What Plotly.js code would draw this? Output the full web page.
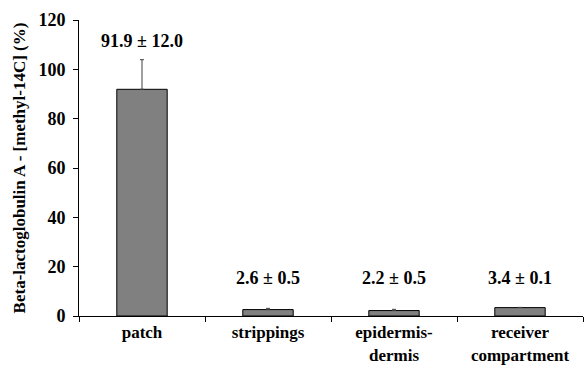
<!DOCTYPE html>
<html><head><meta charset="utf-8">
<script src="https://cdn.plot.ly/plotly-3.0.1.min.js"></script>
<style>body{margin:0;padding:0;background:#fff}#c{width:584px;height:366px}</style>
</head><body><div id="c"></div>
<script>
const categories = ["patch", "strippings", "epidermis-<br>dermis", "receiver<br>compartment"];
const values = [91.9, 2.6, 2.2, 3.4];
const errors = [12.0, 0.5, 0.5, 0.1];
const labels = ["91.9 ± 12.0", "2.6 ± 0.5", "2.2 ± 0.5", "3.4 ± 0.1"];
const labelY = [111.5, 15.4, 15.4, 15.4];
const yTicks = [0, 20, 40, 60, 80, 100, 120];

const F = {family: "Liberation Serif, Times New Roman, serif", color: "#000", weight: "bold"};

const trace = {
  type: "bar", x: categories, y: values,
  marker: {color: "#808080", line: {color: "#000", width: 1}},
  error_y: {type: "data", symmetric: false, array: errors, arrayminus: errors.map(() => 0),
            color: "#404040", thickness: 1, width: 2},
  hoverinfo: "none"
};
const annotations = labels.map((t, i) => ({
  x: categories[i], y: labelY[i], text: t, showarrow: false,
  font: Object.assign({}, F, {size: 18}), xanchor: "center", yanchor: "middle"
}));
const layout = {
  width: 584, height: 366,
  margin: {l: 79, r: 1, t: 20, b: 50},
  paper_bgcolor: "#fff", plot_bgcolor: "#fff",
  showlegend: false, bargap: 0.6,
  xaxis: {tickson: "boundaries", ticks: "outside", ticklen: 5, tickcolor: "#000",
          showline: true, linecolor: "#000", linewidth: 1, showgrid: false, zeroline: false,
          tickfont: Object.assign({}, F, {size: 17}), ticklabelstandoff: 1, fixedrange: true},
  yaxis: {range: [0, 120], tickvals: yTicks, ticks: "outside", ticklen: 5, tickcolor: "#000",
          showline: true, linecolor: "#000", linewidth: 1, showgrid: false, zeroline: false,
          tickfont: Object.assign({}, F, {size: 18}), ticklabelstandoff: 4,
          title: {text: "Beta-lactoglobulin A - [methyl-14C] (%)", font: Object.assign({}, F, {size: 17}), standoff: 8},
          fixedrange: true},
  annotations: annotations
};
Plotly.newPlot("c", [trace], layout, {displayModeBar: false, staticPlot: true});
</script></body></html>
